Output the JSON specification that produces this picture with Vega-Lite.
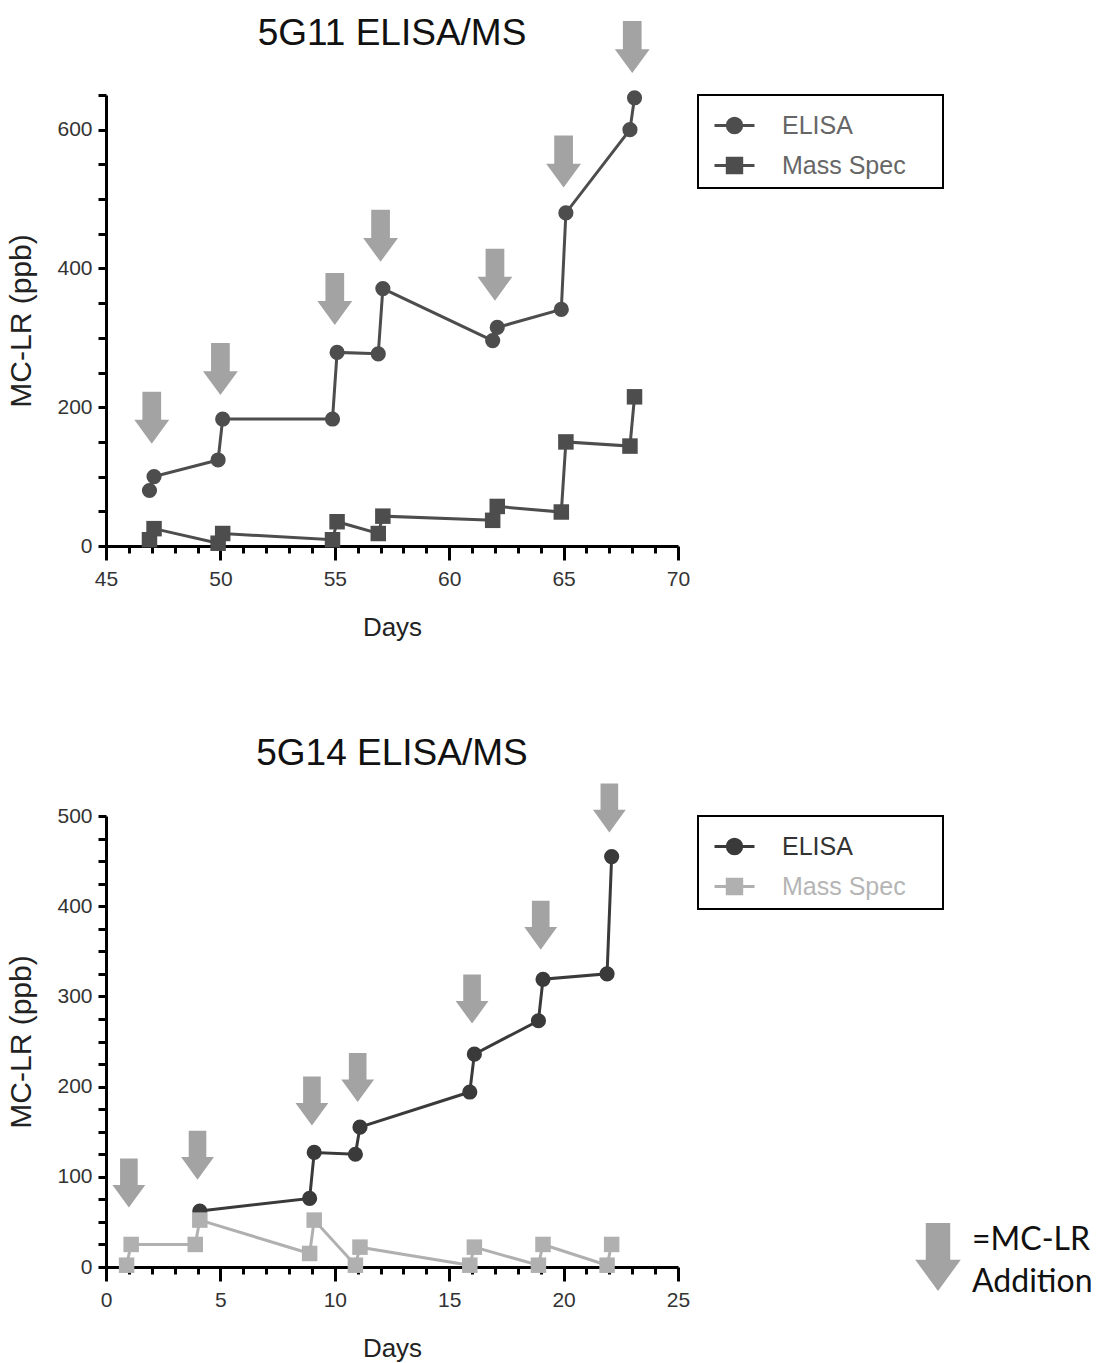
{
  "$schema": "https://vega.github.io/schema/vega-lite/v6.json",
  "background": "white",
  "padding": {"left": 6, "top": 15, "right": 5, "bottom": 5},
  "config": {
    "view": {"stroke": null},
    "font": "Liberation Sans",
    "style": {"guide-label": {"lineHeight": 42}},
    "axis": {"grid": false, "domainColor": "black", "domainWidth": 3, "tickColor": "black", "tickWidth": 3, "labelFontSize": 21, "labelColor": "#333", "labelFont": "Liberation Sans", "titleFont": "Liberation Sans", "titleFontWeight": "normal", "titleColor": "#222"},
    "title": {"fontSize": 37, "fontWeight": "normal", "color": "#111", "font": "Liberation Sans"}
  },
  "resolve": {"scale": {"color": "independent", "fill": "independent"}, "legend": {"color": "independent", "fill": "independent"}},
  "datasets": {
    "top_series": [
      {"series": "ELISA", "day": 46.9, "value": 80},
      {"series": "ELISA", "day": 47.1, "value": 100},
      {"series": "ELISA", "day": 49.9, "value": 124},
      {"series": "ELISA", "day": 50.1, "value": 183},
      {"series": "ELISA", "day": 54.9, "value": 183},
      {"series": "ELISA", "day": 55.1, "value": 279},
      {"series": "ELISA", "day": 56.9, "value": 277},
      {"series": "ELISA", "day": 57.1, "value": 371},
      {"series": "ELISA", "day": 61.9, "value": 296},
      {"series": "ELISA", "day": 62.1, "value": 315},
      {"series": "ELISA", "day": 64.9, "value": 341},
      {"series": "ELISA", "day": 65.1, "value": 480},
      {"series": "ELISA", "day": 67.9, "value": 600},
      {"series": "ELISA", "day": 68.1, "value": 646},
      {"series": "Mass Spec", "day": 46.9, "value": 9},
      {"series": "Mass Spec", "day": 47.1, "value": 25},
      {"series": "Mass Spec", "day": 49.9, "value": 4},
      {"series": "Mass Spec", "day": 50.1, "value": 18},
      {"series": "Mass Spec", "day": 54.9, "value": 9},
      {"series": "Mass Spec", "day": 55.1, "value": 35},
      {"series": "Mass Spec", "day": 56.9, "value": 18},
      {"series": "Mass Spec", "day": 57.1, "value": 43},
      {"series": "Mass Spec", "day": 61.9, "value": 37},
      {"series": "Mass Spec", "day": 62.1, "value": 57},
      {"series": "Mass Spec", "day": 64.9, "value": 49},
      {"series": "Mass Spec", "day": 65.1, "value": 150},
      {"series": "Mass Spec", "day": 67.9, "value": 144},
      {"series": "Mass Spec", "day": 68.1, "value": 215}
    ],
    "top_arrows": [
      {"kind": "=MC-LR Addition", "day": 47, "value": 185},
      {"kind": "=MC-LR Addition", "day": 50, "value": 255},
      {"kind": "=MC-LR Addition", "day": 55, "value": 356},
      {"kind": "=MC-LR Addition", "day": 57, "value": 447},
      {"kind": "=MC-LR Addition", "day": 62, "value": 391},
      {"kind": "=MC-LR Addition", "day": 65, "value": 554},
      {"kind": "=MC-LR Addition", "day": 68, "value": 719}
    ],
    "bot_series": [
      {"series": "ELISA", "day": 4.1, "value": 62},
      {"series": "ELISA", "day": 8.9, "value": 76},
      {"series": "ELISA", "day": 9.1, "value": 127},
      {"series": "ELISA", "day": 10.9, "value": 125},
      {"series": "ELISA", "day": 11.1, "value": 155},
      {"series": "ELISA", "day": 15.9, "value": 194},
      {"series": "ELISA", "day": 16.1, "value": 236},
      {"series": "ELISA", "day": 18.9, "value": 273},
      {"series": "ELISA", "day": 19.1, "value": 319},
      {"series": "ELISA", "day": 21.9, "value": 325},
      {"series": "ELISA", "day": 22.1, "value": 455},
      {"series": "Mass Spec", "day": 0.9, "value": 2},
      {"series": "Mass Spec", "day": 1.1, "value": 25},
      {"series": "Mass Spec", "day": 3.9, "value": 25},
      {"series": "Mass Spec", "day": 4.1, "value": 52},
      {"series": "Mass Spec", "day": 8.9, "value": 15},
      {"series": "Mass Spec", "day": 9.1, "value": 52},
      {"series": "Mass Spec", "day": 10.9, "value": 2},
      {"series": "Mass Spec", "day": 11.1, "value": 22},
      {"series": "Mass Spec", "day": 15.9, "value": 2},
      {"series": "Mass Spec", "day": 16.1, "value": 22},
      {"series": "Mass Spec", "day": 18.9, "value": 2},
      {"series": "Mass Spec", "day": 19.1, "value": 25},
      {"series": "Mass Spec", "day": 21.9, "value": 2},
      {"series": "Mass Spec", "day": 22.1, "value": 25}
    ],
    "bot_arrows": [
      {"kind": "=MC-LR Addition", "day": 1, "value": 93},
      {"kind": "=MC-LR Addition", "day": 4, "value": 124},
      {"kind": "=MC-LR Addition", "day": 9, "value": 184},
      {"kind": "=MC-LR Addition", "day": 11, "value": 210},
      {"kind": "=MC-LR Addition", "day": 16, "value": 297},
      {"kind": "=MC-LR Addition", "day": 19, "value": 379},
      {"kind": "=MC-LR Addition", "day": 22, "value": 509}
    ]
  },
  "spacing": 95,
  "vconcat": [
    {
      "title": {"text": "5G11 ELISA/MS", "offset": -32},
      "width": 572,
      "height": 451,
      "encoding": {
        "x": {"field": "day", "type": "quantitative", "scale": {"domain": [45, 70], "nice": false, "zero": false},
          "axis": {"values": [45,46,47,48,49,50,51,52,53,54,55,56,57,58,59,60,61,62,63,64,65,66,67,68,69,70],
            "labelExpr": "datum.value % 5 === 0 ? datum.label : ''",
            "tickSize": {"condition": {"test": "datum.value % 5 === 0", "value": 14}, "value": 7},
            "labelPadding": 8, "labelFlush": false, "labelOverlap": false,
            "title": "Days", "titleFontSize": 26, "titlePadding": 25}},
        "y": {"field": "value", "type": "quantitative", "scale": {"domain": [0, 650], "nice": false},
          "axis": {"values": [0,50,100,150,200,250,300,350,400,450,500,550,600,650],
            "labelExpr": "datum.value % 200 === 0 ? datum.label : ''",
            "tickSize": 8, "labelPadding": 6, "labelOverlap": false,
            "title": "MC-LR (ppb)", "titleFontSize": 30, "titlePadding": 20}}
      },
      "layer": [
        {
          "data": {"name": "top_arrows"},
          "mark": {"type": "point", "shape": "M-0.36,-1L0.36,-1L0.36,0.08L0.67,0.08L0,1L-0.67,0.08L-0.36,0.08Z", "filled": true, "size": 2704, "strokeWidth": 0, "opacity": 1, "color": "#a3a3a3"}
        },
        {
          "data": {"name": "top_series"},
          "encoding": {
            "color": {"field": "series", "type": "nominal",
              "scale": {"domain": ["ELISA", "Mass Spec"], "range": ["#4d4d4d", "#4d4d4d"]},
              "legend": {"title": null, "orient": "right", "offset": 20, "padding": 9, "strokeColor": "black",
                "symbolSize": 1600, "symbolStrokeWidth": 3, "symbolOffset": 6, "labelFontSize": 25, "labelOffset": 26,
                "labelColor": "#666", "rowPadding": 5, "labelExpr": "datum.label + '\u00a0\u00a0\u00a0\u00a0\u200b'",
                "encode": {
                  "legend": {"update": {"strokeWidth": {"value": 2}}},
                  "symbols": {"update": {
                    "shape": {"signal": "datum.value === 'ELISA' ? 'M-1,0L1,0M0.36,0A0.36,0.36 0 1,1 -0.36,0A0.36,0.36 0 1,1 0.36,0Z' : 'M-1,0L1,0M-0.36,-0.36L0.36,-0.36L0.36,0.36L-0.36,0.36Z'"},
                    "fill": {"value": "#4d4d4d"}, "stroke": {"value": "#4d4d4d"}, "strokeWidth": {"value": 3}, "opacity": {"value": 1}}}
                }}}
          },
          "layer": [
            {"mark": {"type": "line", "strokeWidth": 3}},
            {"transform": [{"filter": "datum.series === 'ELISA'"}],
              "mark": {"type": "point", "shape": "circle", "filled": true, "size": 230, "opacity": 1, "strokeWidth": 0}},
            {"transform": [{"filter": "datum.series === 'Mass Spec'"}],
              "mark": {"type": "point", "shape": "square", "filled": true, "size": 240, "opacity": 1, "strokeWidth": 0}}
          ]
        }
      ]
    },
    {
      "title": {"text": "5G14 ELISA/MS", "offset": 10},
      "width": 572,
      "height": 451,
      "encoding": {
        "x": {"field": "day", "type": "quantitative", "scale": {"domain": [0, 25], "nice": false, "zero": false},
          "axis": {"values": [0,1,2,3,4,5,6,7,8,9,10,11,12,13,14,15,16,17,18,19,20,21,22,23,24,25],
            "labelExpr": "datum.value % 5 === 0 ? datum.label : ''",
            "tickSize": {"condition": {"test": "datum.value % 5 === 0", "value": 14}, "value": 7},
            "labelPadding": 8, "labelFlush": false, "labelOverlap": false,
            "title": "Days", "titleFontSize": 26, "titlePadding": 25}},
        "y": {"field": "value", "type": "quantitative", "scale": {"domain": [0, 500], "nice": false},
          "axis": {"values": [0,25,50,75,100,125,150,175,200,225,250,275,300,325,350,375,400,425,450,475,500],
            "labelExpr": "datum.value % 100 === 0 ? datum.label : ''",
            "tickSize": 8, "labelPadding": 6, "labelOverlap": false,
            "title": "MC-LR (ppb)", "titleFontSize": 30, "titlePadding": 20}}
      },
      "layer": [
        {
          "data": {"name": "bot_arrows"},
          "mark": {"type": "point", "shape": "M-0.36,-1L0.36,-1L0.36,0.08L0.67,0.08L0,1L-0.67,0.08L-0.36,0.08Z", "filled": true, "size": 2400, "strokeWidth": 0, "opacity": 1},
          "encoding": {
            "fill": {"field": "kind", "type": "nominal", "scale": {"range": ["#a3a3a3"]},
              "legend": {"title": null, "orient": "none", "legendX": 798, "legendY": 407, "padding": 0,
                "symbolType": "M-0.36,-1L0.36,-1L0.36,0.08L0.67,0.08L0,1L-0.67,0.08L-0.36,0.08Z",
                "symbolSize": 4624, "symbolStrokeWidth": 0, "labelFont": "Lato", "labelFontSize": 32,
                "labelColor": "#111", "labelOffset": 0, "labelLimit": 300, "labelBaseline": "bottom",
                "labelExpr": "split(datum.label, ' ')",
                "encode": {"labels": {"enter": {"lineHeight": {"value": 42}}, "update": {"lineHeight": {"value": 42}}}}}}
          }
        },
        {
          "data": {"name": "bot_series"},
          "encoding": {
            "color": {"field": "series", "type": "nominal",
              "scale": {"domain": ["ELISA", "Mass Spec"], "range": ["#3a3a3a", "#b0b0b0"]},
              "legend": {"title": null, "orient": "right", "offset": 20, "padding": 9, "strokeColor": "black",
                "symbolSize": 1600, "symbolStrokeWidth": 3, "symbolOffset": 6, "labelFontSize": 25, "labelOffset": 26,
                "rowPadding": 5, "labelExpr": "datum.label + '\u00a0\u00a0\u00a0\u00a0\u200b'",
                "encode": {
                  "legend": {"update": {"strokeWidth": {"value": 2}}},
                  "labels": {"update": {"fill": {"signal": "datum.value === 'ELISA' ? '#333333' : '#b5b5b5'"}}},
                  "symbols": {"update": {
                    "shape": {"signal": "datum.value === 'ELISA' ? 'M-1,0L1,0M0.36,0A0.36,0.36 0 1,1 -0.36,0A0.36,0.36 0 1,1 0.36,0Z' : 'M-1,0L1,0M-0.36,-0.36L0.36,-0.36L0.36,0.36L-0.36,0.36Z'"},
                    "fill": {"signal": "datum.value === 'ELISA' ? '#3a3a3a' : '#b0b0b0'"},
                    "stroke": {"signal": "datum.value === 'ELISA' ? '#3a3a3a' : '#b0b0b0'"},
                    "strokeWidth": {"value": 3}, "opacity": {"value": 1}}}
                }}}
          },
          "layer": [
            {"mark": {"type": "line", "strokeWidth": 3}},
            {"transform": [{"filter": "datum.series === 'ELISA'"}],
              "mark": {"type": "point", "shape": "circle", "filled": true, "size": 230, "opacity": 1, "strokeWidth": 0}},
            {"transform": [{"filter": "datum.series === 'Mass Spec'"}],
              "mark": {"type": "point", "shape": "square", "filled": true, "size": 240, "opacity": 1, "strokeWidth": 0}}
          ]
        }
      ]
    }
  ]
}
